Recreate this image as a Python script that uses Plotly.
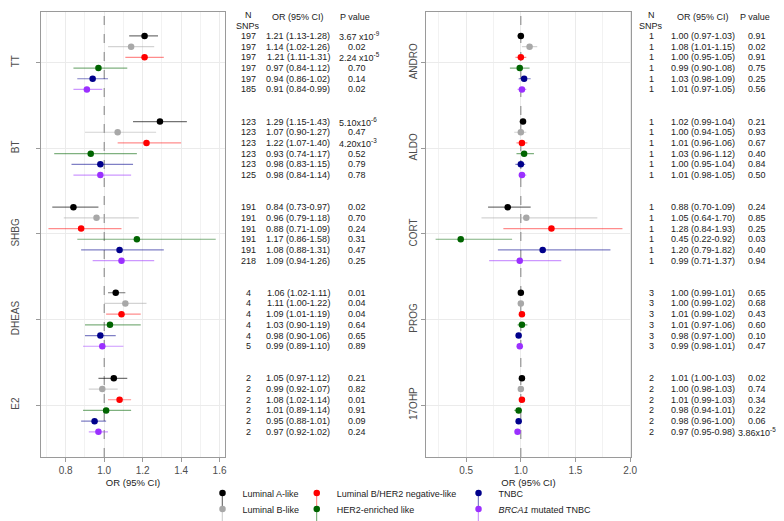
import plotly.graph_objects as go

subtypes = ["Luminal A-like", "Luminal B-like", "Luminal B/HER2 negative-like",
            "HER2-enriched like", "TNBC", "<i>BRCA1</i> mutated TNBC"]
colors = ["#000000", "#A8A8A8", "#FF0000", "#006400", "#00008B", "#9B30FF"]
bar_colors = ["rgba(0,0,0,0.55)", "rgba(168,168,168,0.5)", "rgba(255,0,0,0.45)",
              "rgba(0,100,0,0.5)", "rgba(0,0,139,0.5)", "rgba(155,48,255,0.5)"]

# ---- Left panel data (per hormone: values for the 6 subtypes) ----
left_hormones = ["TT", "BT", "SHBG", "DHEAS", "E2"]
left_or = [[1.21, 1.14, 1.21, 0.97, 0.94, 0.91],
           [1.29, 1.07, 1.22, 0.93, 0.98, 0.98],
           [0.84, 0.96, 0.88, 1.17, 1.08, 1.09],
           [1.06, 1.11, 1.09, 1.03, 0.98, 0.99],
           [1.05, 0.99, 1.08, 1.01, 0.95, 0.97]]
left_lo = [[1.13, 1.02, 1.11, 0.84, 0.86, 0.84],
           [1.15, 0.90, 1.07, 0.74, 0.83, 0.84],
           [0.73, 0.79, 0.71, 0.86, 0.88, 0.94],
           [1.02, 1.00, 1.01, 0.90, 0.90, 0.89],
           [0.97, 0.92, 1.02, 0.89, 0.88, 0.92]]
left_hi = [[1.28, 1.26, 1.31, 1.12, 1.02, 0.99],
           [1.43, 1.27, 1.40, 1.17, 1.15, 1.14],
           [0.97, 1.18, 1.09, 1.58, 1.31, 1.26],
           [1.11, 1.22, 1.19, 1.19, 1.06, 1.10],
           [1.12, 1.07, 1.14, 1.14, 1.01, 1.02]]
left_n = [[197, 197, 197, 197, 197, 185],
          [123, 123, 123, 123, 123, 125],
          [191, 191, 191, 191, 191, 218],
          [4, 4, 4, 4, 4, 5],
          [2, 2, 2, 2, 2, 2]]
left_p = [["3.67 x10<sup>-9</sup>", "0.02", "2.24 x10<sup>-5</sup>", "0.70", "0.14", "0.02"],
          ["5.10x10<sup>-6</sup>", "0.47", "4.20x10<sup>-3</sup>", "0.52", "0.79", "0.78"],
          ["0.02", "0.70", "0.24", "0.31", "0.47", "0.25"],
          ["0.01", "0.04", "0.04", "0.64", "0.65", "0.89"],
          ["0.21", "0.82", "0.01", "0.91", "0.09", "0.24"]]

# ---- Right panel data ----
right_hormones = ["ANDRO", "ALDO", "CORT", "PROG", "17OHP"]
right_or = [[1.00, 1.08, 1.00, 0.99, 1.03, 1.01],
            [1.02, 1.00, 1.01, 1.03, 1.00, 1.01],
            [0.88, 1.05, 1.28, 0.45, 1.20, 0.99],
            [1.00, 1.00, 1.01, 1.01, 0.98, 0.99],
            [1.01, 1.00, 1.01, 0.98, 0.98, 0.97]]
right_lo = [[0.97, 1.01, 0.95, 0.90, 0.98, 0.97],
            [0.99, 0.94, 0.96, 0.96, 0.95, 0.98],
            [0.70, 0.64, 0.84, 0.22, 0.79, 0.71],
            [0.99, 0.99, 0.99, 0.97, 0.97, 0.98],
            [1.00, 0.98, 0.99, 0.94, 0.96, 0.95]]
right_hi = [[1.03, 1.15, 1.05, 1.08, 1.09, 1.05],
            [1.04, 1.05, 1.06, 1.12, 1.04, 1.05],
            [1.09, 1.70, 1.93, 0.92, 1.82, 1.37],
            [1.01, 1.02, 1.02, 1.06, 1.00, 1.01],
            [1.03, 1.03, 1.03, 1.01, 1.00, 0.98]]
right_n = [[1, 1, 1, 1, 1, 1],
           [1, 1, 1, 1, 1, 1],
           [1, 1, 1, 1, 1, 1],
           [3, 3, 3, 3, 3, 3],
           [2, 2, 2, 2, 2, 2]]
right_p = [["0.91", "0.02", "0.91", "0.75", "0.25", "0.56"],
           ["0.21", "0.93", "0.67", "0.40", "0.84", "0.50"],
           ["0.24", "0.85", "0.25", "0.03", "0.40", "0.94"],
           ["0.65", "0.68", "0.43", "0.60", "0.10", "0.47"],
           ["0.02", "0.74", "0.34", "0.22", "0.06", "3.86x10<sup>-5</sup>"]]

W, H = 784, 521
FONT = "Liberation Sans, Arial, sans-serif"
ROWS_PER_GROUP = 8
YRANGE = [39.35, -2.24]


def py(px):
    return 1 - px / H


def px_(x):
    return x / W


fig = go.Figure()

panels = [
    (left_hormones, left_or, left_lo, left_hi, "x", "y"),
    (right_hormones, right_or, right_lo, right_hi, "x2", "y2"),
]

for pi, (hormones, ors, los, his, xa, ya) in enumerate(panels):
    # dashed reference line at OR = 1, drawn beneath the points
    fig.add_trace(go.Scatter(
        x=[1, 1], y=YRANGE, mode="lines", xaxis=xa, yaxis=ya,
        line=dict(color="#808080", width=1, dash="dash"),
        showlegend=False, hoverinfo="skip", cliponaxis=True,
    ))
    for s in range(len(subtypes)):
        xs, ys, ep, em = [], [], [], []
        for g in range(len(hormones)):
            xs.append(ors[g][s])
            ys.append(g * ROWS_PER_GROUP + s)
            ep.append(his[g][s] - ors[g][s])
            em.append(ors[g][s] - los[g][s])
        fig.add_trace(go.Scatter(
            x=xs, y=ys, mode="markers", xaxis=xa, yaxis=ya,
            marker=dict(color=colors[s], size=6.5),
            error_x=dict(type="data", array=ep, arrayminus=em, symmetric=False,
                         color=bar_colors[s], thickness=1.2, width=0),
            name=subtypes[s],
            showlegend=(pi == 0),
            legend=("legend" if s == 0 else f"legend{s + 1}"),
            hoverinfo="x+y",
        ))

tickvals = [g * ROWS_PER_GROUP + 2.5 for g in range(len(left_hormones))]

ydom = [py(449), py(4)]
axis_common = dict(showline=True, linecolor="#9A9A9A", linewidth=1, mirror=True,
                   ticks="outside", ticklen=4, tickcolor="#9A9A9A", zeroline=False,
                   tickfont=dict(family=FONT, size=10, color="#4D4D4D"))

fig.update_layout(
    xaxis=dict(domain=[px_(33), px_(219)], range=[0.67, 1.63], dtick=0.2, tick0=0,
               tickformat=".1f", showgrid=True, gridcolor="#EBEBEB",
               minor=dict(dtick=0.1, showgrid=True, gridcolor="#F2F2F2"),
               title=dict(text="OR (95% CI)", font=dict(family=FONT, size=9.5, color="#222"), standoff=4),
               anchor="y", **axis_common),
    yaxis=dict(domain=ydom, range=YRANGE, tickvals=tickvals, ticktext=left_hormones,
               tickangle=-90, showgrid=True, gridcolor="#EBEBEB", anchor="x",
               ticklabelstandoff=13, **axis_common),
    xaxis2=dict(domain=[px_(421), px_(628)], range=[0.13, 2.01], dtick=0.5, tick0=0,
                tickformat=".1f", showgrid=True, gridcolor="#EBEBEB",
                minor=dict(dtick=0.25, showgrid=True, gridcolor="#F2F2F2"),
                title=dict(text="OR (95% CI)", font=dict(family=FONT, size=9.5, color="#222"), standoff=4),
                anchor="y2", **axis_common),
    yaxis2=dict(domain=ydom, range=YRANGE, tickvals=tickvals, ticktext=right_hormones,
                tickangle=-90, showgrid=True, gridcolor="#EBEBEB", anchor="x2",
                **axis_common),
    width=W, height=H,
    margin=dict(l=0, r=0, t=0, b=0),
    plot_bgcolor="white", paper_bgcolor="white",
    font=dict(family=FONT, size=9, color="#222"),
)

# tables
ann = []
tables = [
    (left_n, left_or, left_lo, left_hi, left_p, "y", 242, 292.5, 341, 332),
    (right_n, right_or, right_lo, right_hi, right_p, "y2", 648, 700.5, 744, 734),
]
for (ns, ors, los, his, ps, yr, xn, xo, xp, xpl) in tables:
    for g in range(len(ns)):
        for s in range(len(subtypes)):
            yv = g * ROWS_PER_GROUP + s
            ann.append(dict(x=px_(xn), y=yv, xref="paper", yref=yr, text=str(ns[g][s]),
                            showarrow=False, xanchor="center", yanchor="middle",
                            font=dict(family=FONT, size=9, color="#222")))
            ann.append(dict(x=px_(xo), y=yv, xref="paper", yref=yr,
                            text=f"{ors[g][s]:.2f} ({los[g][s]:.2f}-{his[g][s]:.2f})",
                            showarrow=False, xanchor="center", yanchor="middle",
                            font=dict(family=FONT, size=9, color="#222")))
            ptxt = ps[g][s]
            ann.append(dict(x=px_(xpl if "x10" in ptxt else xp), y=yv, xref="paper", yref=yr,
                            text=ptxt, showarrow=False, xanchor="left", yanchor="middle",
                            font=dict(family=FONT, size=9, color="#222")))
    # headers
    ann.append(dict(x=px_(xn), y=py(7), xref="paper", yref="paper", text="N",
                    showarrow=False, xanchor="center", yanchor="middle",
                    font=dict(family=FONT, size=9, color="#222")))
    ann.append(dict(x=px_(xn), y=py(17.5), xref="paper", yref="paper", text="SNPs",
                    showarrow=False, xanchor="center", yanchor="middle",
                    font=dict(family=FONT, size=9, color="#222")))
    ann.append(dict(x=px_(xo), y=py(9.5), xref="paper", yref="paper", text="OR (95% CI)",
                    showarrow=False, xanchor="center", yanchor="middle",
                    font=dict(family=FONT, size=9, color="#222")))
    ann.append(dict(x=px_(xp + 9), y=py(9.5), xref="paper", yref="paper", text="P value",
                    showarrow=False, xanchor="center", yanchor="middle",
                    font=dict(family=FONT, size=9, color="#222")))
fig.update_layout(annotations=ann)

# legends: one per subtype, laid out in 3 columns x 2 rows
leg_sym_x = [216, 216, 311, 311, 474, 474]
leg_y = [492, 508, 492, 508, 492, 508]
for s in range(len(subtypes)):
    key = "legend" if s == 0 else f"legend{s + 1}"
    fig.update_layout(**{key: dict(
        x=px_(leg_sym_x[s] - 20), y=py(leg_y[s] - 7), xref="paper", yref="paper",
        xanchor="left", yanchor="middle", bgcolor="rgba(0,0,0,0)",
        font=dict(family=FONT, size=9, color="#222"), itemwidth=30,
    )})
    fig.add_shape(type="line", xref="paper", yref="paper",
                  x0=px_(leg_sym_x[s]), x1=px_(leg_sym_x[s]),
                  y0=py(leg_y[s] - 8), y1=py(leg_y[s] + 8),
                  line=dict(color=bar_colors[s], width=1.2))

fig.write_html("out.html")
